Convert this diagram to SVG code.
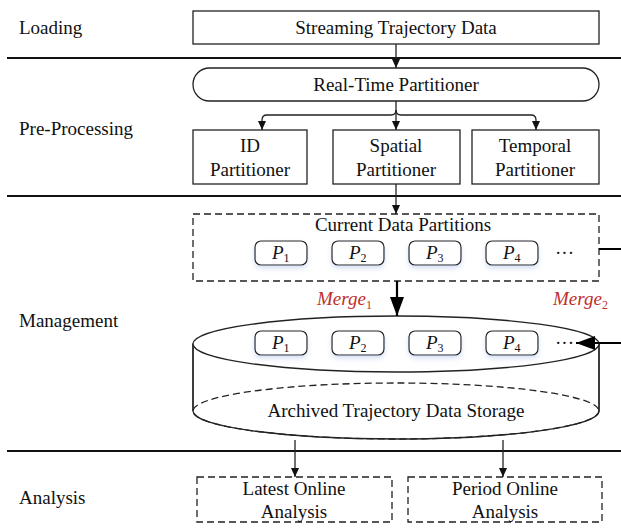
<svg xmlns="http://www.w3.org/2000/svg" width="621" height="530" viewBox="0 0 621 530" font-family="'Liberation Serif', 'Times New Roman', Tinos, 'Noto Serif', 'DejaVu Serif', serif">
  <style>
    text { font-size: 19px; fill: #111; }
    .lbl { text-anchor: start; }
    .c { text-anchor: middle; }
    .box { fill: #fff; stroke: #222; stroke-width: 1.3; }
    .dash { fill: none; stroke: #222; stroke-width: 1.3; stroke-dasharray: 7 4; }
    .line { fill: none; stroke: #222; stroke-width: 1.3; }
    .thick { fill: none; stroke: #000; stroke-width: 2.2; }
    .sep { stroke: #111; stroke-width: 2; }
    .pbox { fill: #fff; stroke: #222; stroke-width: 1.2; filter: url(#glow); }
    .it { font-style: italic; }
    .merge { fill: #c0302a; font-style: italic; }
    .sub { font-size: 12px; font-style: normal; }
  </style>
  <defs>
    <marker id="arr" markerWidth="10" markerHeight="10" refX="9" refY="5" orient="auto" markerUnits="userSpaceOnUse">
      <path d="M0,1 L9,5 L0,9 Z" fill="#111"/>
    </marker>
    <marker id="arrBig" markerWidth="20" markerHeight="16" refX="19" refY="8" orient="auto" markerUnits="userSpaceOnUse">
      <path d="M0,1 L19,8 L0,15 Z" fill="#000"/>
    </marker>
    <filter id="glow" x="-20%" y="-30%" width="140%" height="180%">
      <feDropShadow dx="0" dy="3" stdDeviation="2.5" flood-color="#8fa8e0" flood-opacity="0.35"/>
    </filter>
  </defs>

  <!-- stage separators -->
  <g id="separators">
    <line class="sep" x1="7" y1="58" x2="621" y2="58"/>
    <line class="sep" x1="7" y1="196" x2="621" y2="196"/>
    <line class="sep" x1="7" y1="451" x2="621" y2="451"/>
  </g>

  <!-- stage labels -->
  <g id="stage-labels">
    <text class="lbl" x="19" y="34">Loading</text>
    <text class="lbl" x="19" y="135">Pre-Processing</text>
    <text class="lbl" x="19" y="327">Management</text>
    <text class="lbl" x="19" y="504">Analysis</text>
  </g>

  <g id="streaming-data">
    <rect class="box" x="193" y="11" width="406" height="33"/>
    <text class="c" x="396" y="34">Streaming Trajectory Data</text>
  </g>

  <g id="real-time-partitioner">
    <rect class="box" x="193" y="68" width="406" height="33" rx="16.5" ry="16.5"/>
    <text class="c" x="396" y="91">Real-Time Partitioner</text>
  </g>

  <g id="id-partitioner">
    <rect class="box" x="193" y="130" width="114" height="54"/>
    <text class="c" x="250" y="152">ID</text>
    <text class="c" x="250" y="176">Partitioner</text>
  </g>

  <g id="spatial-partitioner">
    <rect class="box" x="333" y="130" width="127" height="54"/>
    <text class="c" x="396" y="152">Spatial</text>
    <text class="c" x="396" y="176">Partitioner</text>
  </g>

  <g id="temporal-partitioner">
    <rect class="box" x="472" y="130" width="127" height="54"/>
    <text class="c" x="535" y="152">Temporal</text>
    <text class="c" x="535" y="176">Partitioner</text>
  </g>

  <g id="current-partitions">
    <rect class="dash" x="193" y="214" width="406" height="67"/>
    <text class="c" x="403" y="231">Current Data Partitions</text>
    <rect class="pbox" x="255" y="241" width="52" height="24" rx="6"/>
    <rect class="pbox" x="332" y="241" width="52" height="24" rx="6"/>
    <rect class="pbox" x="409" y="241" width="52" height="24" rx="6"/>
    <rect class="pbox" x="486" y="241" width="52" height="24" rx="6"/>
    <text class="it" x="272" y="259">P<tspan class="sub" dy="3">1</tspan></text>
    <text class="it" x="349" y="259">P<tspan class="sub" dy="3">2</tspan></text>
    <text class="it" x="426" y="259">P<tspan class="sub" dy="3">3</tspan></text>
    <text class="it" x="503" y="259">P<tspan class="sub" dy="3">4</tspan></text>
    <text x="555" y="259">···</text>
  </g>

  <g id="archived-storage">
    <path class="box" d="M193,344 V411 A203,28 0 0 0 599,411 V344 Z" stroke="none"/>
    <path class="line" d="M193,344 V411 M599,344 V411"/>
    <ellipse class="dash" cx="396" cy="411" rx="203" ry="28"/>
    <ellipse class="box" cx="396" cy="344" rx="203" ry="28"/>
    <rect class="pbox" x="255" y="331" width="52" height="24" rx="6"/>
    <rect class="pbox" x="332" y="331" width="52" height="24" rx="6"/>
    <rect class="pbox" x="409" y="331" width="52" height="24" rx="6"/>
    <rect class="pbox" x="486" y="331" width="52" height="24" rx="6"/>
    <text class="it" x="272" y="349">P<tspan class="sub" dy="3">1</tspan></text>
    <text class="it" x="349" y="349">P<tspan class="sub" dy="3">2</tspan></text>
    <text class="it" x="426" y="349">P<tspan class="sub" dy="3">3</tspan></text>
    <text class="it" x="503" y="349">P<tspan class="sub" dy="3">4</tspan></text>
    <text x="555" y="349">···</text>
    <text class="c" x="396" y="417">Archived Trajectory Data Storage</text>
  </g>

  <g id="latest-analysis">
    <rect class="dash" x="197" y="477" width="195" height="45"/>
    <text class="c" x="294" y="495">Latest Online</text>
    <text class="c" x="294" y="518">Analysis</text>
  </g>

  <g id="period-analysis">
    <rect class="dash" x="408" y="477" width="194" height="45"/>
    <text class="c" x="505" y="495">Period Online</text>
    <text class="c" x="505" y="518">Analysis</text>
  </g>

  <!-- connectors -->
  <g id="connectors">
    <line class="line" x1="396" y1="44" x2="396" y2="68" marker-end="url(#arr)"/>
    <path class="line" d="M396,101 V110 Q396,115 391,115 H267 Q262,115 262,120 V130" marker-end="url(#arr)"/>
    <path class="line" d="M396,110 Q396,115 401,115 H531 Q536,115 536,120 V130" marker-end="url(#arr)"/>
    <line class="line" x1="396" y1="110" x2="396" y2="130" marker-end="url(#arr)"/>
    <line class="line" x1="396" y1="184" x2="396" y2="214" marker-end="url(#arr)"/>
    <line class="thick" x1="397" y1="281" x2="397" y2="316" marker-end="url(#arrBig)"/>
    <path class="thick" d="M599,249 H623 V343 H576" marker-end="url(#arrBig)"/>
    <line class="line" x1="295" y1="440" x2="295" y2="477" marker-end="url(#arr)"/>
    <line class="line" x1="503" y1="440" x2="503" y2="477" marker-end="url(#arr)"/>
  </g>

  <!-- connector labels -->
  <g id="merge-labels">
    <text class="merge" x="317" y="305">Merge<tspan class="sub" dy="4">1</tspan></text>
    <text class="merge" x="553" y="305">Merge<tspan class="sub" dy="4">2</tspan></text>
  </g>
</svg>
